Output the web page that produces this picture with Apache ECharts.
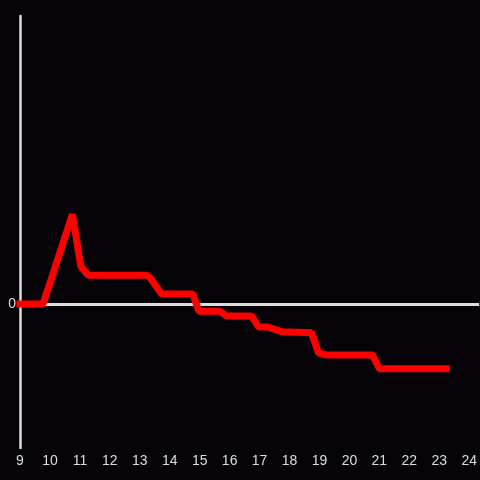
<!DOCTYPE html>
<html>
<head>
<meta charset="utf-8">
<script src="https://cdn.jsdelivr.net/npm/echarts@6/dist/echarts.min.js"></script>
<style>
  html, body { margin: 0; padding: 0; background: #050307; }
  #chart { width: 480px; height: 480px; }
</style>
</head>
<body>
<div id="chart"></div>
<script>
var xValues = [9.0, 9.77, 10.75, 11.03, 11.27, 13.2, 13.33, 13.73, 14.77, 14.97, 15.67, 15.9, 16.73, 16.97, 17.27, 17.77, 18.73, 18.97, 19.23, 20.77, 21.0, 23.23];
var yValues = [0, 0, 1.87, 0.79, 0.6, 0.6, 0.56, 0.21, 0.21, -0.15, -0.15, -0.25, -0.25, -0.48, -0.48, -0.58, -0.6, -1.02, -1.06, -1.06, -1.35, -1.35];
var yLabels = [0];

var chart = echarts.init(document.getElementById('chart'));
var points = xValues.map(function (x, i) { return [x, yValues[i]]; });

chart.setOption({
  backgroundColor: '#050307',
  animation: false,
  grid: { left: 20, right: 0, top: 16, bottom: 32 },
  xAxis: {
    type: 'value',
    min: 9,
    max: 24.333,
    interval: 1,
    axisLine: { show: false, onZero: false },
    axisTick: { show: false },
    splitLine: { show: false },
    axisLabel: {
      color: '#dddddd',
      fontSize: 14,
      fontFamily: 'Liberation Sans',
      margin: 6,
      showMaxLabel: false
    }
  },
  yAxis: {
    type: 'value',
    min: -3,
    max: 6,
    interval: 3,
    axisLine: { show: true, lineStyle: { color: '#dddddd', width: 2.5 } },
    axisTick: { show: false },
    splitLine: { show: false },
    axisLabel: {
      color: '#dddddd',
      fontSize: 14,
      fontFamily: 'Liberation Sans',
      margin: 4,
      formatter: function (v) { return yLabels.indexOf(v) >= 0 ? String(v) : ''; }
    }
  },
  series: [{
    type: 'line',
    data: points,
    showSymbol: false,
    lineStyle: { color: '#ff0000', width: 7, join: 'bevel', cap: 'square' },
    markLine: {
      silent: true,
      symbol: 'none',
      label: { show: false },
      lineStyle: { color: '#dddddd', width: 3, type: 'solid' },
      data: [{ yAxis: 0 }],
      z: 1
    },
    z: 3
  }]
});
</script>
</body>
</html>
